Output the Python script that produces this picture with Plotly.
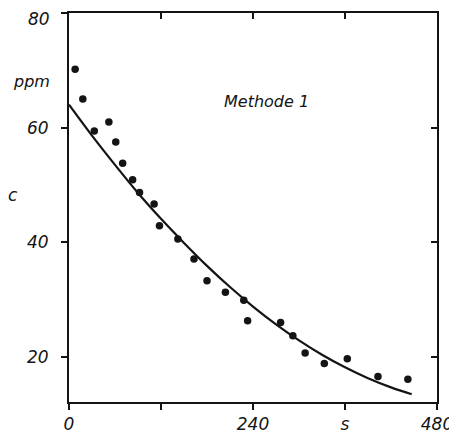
import plotly.graph_objects as go

# measured points (time in s, concentration in ppm)
t_meas = [8, 18, 33, 52, 61, 70, 83, 92, 111, 118, 142, 163, 180, 204, 228, 233,
          276, 292, 308, 333, 363, 403, 442]
c_meas = [70.2, 65.0, 59.4, 61.0, 57.5, 53.8, 50.9, 48.7, 46.7, 42.9, 40.6, 37.1,
          33.3, 31.3, 29.9, 26.3, 26.0, 23.7, 20.7, 18.85, 19.7, 16.6, 16.1]

# fitted curve
t_fit = [0, 30, 60, 90, 120, 150, 180, 210, 240, 270, 300, 330, 360, 390, 420, 447]
c_fit = [64.0, 58.6, 53.5, 48.6, 44.1, 39.9, 35.9, 32.2, 28.8, 25.7, 22.9, 20.4,
         18.2, 16.3, 14.7, 13.5]

x_tickvals = [0, 120, 240, 360, 480]
x_ticktext = ["0", "", "240", "s", "480"]
y_tickvals = [20, 40, 60, 80]
y_ticktext = ["20", "40", "60", ""]
top_label = "80"          # top y label, drawn just below its tick (edge of page)
top_ticks = [120, 240, 360]
right_ticks = [20, 40, 60]

FONT = "DejaVu Sans"
INK = "#141414"

fig = go.Figure()
fig.add_trace(go.Scatter(x=t_fit, y=c_fit, mode="lines",
                         line=dict(color=INK, width=2.2, shape="spline"),
                         hoverinfo="skip", showlegend=False))
fig.add_trace(go.Scatter(x=t_meas, y=c_meas, mode="markers",
                         marker=dict(color=INK, size=7.5),
                         showlegend=False))
fig.add_trace(go.Scatter(x=[None], y=[None], xaxis="x2", yaxis="y2",
                         showlegend=False, hoverinfo="skip"))

XR = [0, 480]
YR = [12.15, 80]
tf = dict(family=FONT, size=17, color=INK, style="italic")

# page body has an 8px offset; plot area aimed at screen px 69..437 x 13..402
OFF = 8
W, H = 449, 427
l, r, t, b = 69 - OFF, W - (437 - OFF), 13 - OFF, H - (402 - OFF)

fig.update_layout(
    width=W, height=H,
    margin=dict(l=l, r=r, t=t, b=b),
    paper_bgcolor="white", plot_bgcolor="white",
    xaxis=dict(range=XR, tickvals=x_tickvals, ticktext=x_ticktext,
               ticks="outside", ticklen=6, tickwidth=1.5, tickcolor=INK,
               showline=True, linewidth=2, linecolor=INK, mirror=False,
               showgrid=False, zeroline=False, tickfont=tf, automargin=False,
               ticklabelstandoff=0),
    yaxis=dict(range=YR, tickvals=y_tickvals, ticktext=y_ticktext,
               ticks="outside", ticklen=6, tickwidth=1.5, tickcolor=INK,
               showline=True, linewidth=2, linecolor=INK, mirror=False,
               showgrid=False, zeroline=False, tickfont=tf, automargin=False,
               ticklabelstandoff=9),
    xaxis2=dict(range=XR, overlaying="x", side="top", anchor="y",
                tickvals=top_ticks, ticks="inside", ticklen=6, tickwidth=1.5,
                tickcolor=INK, showticklabels=False, showline=True, automargin=False,
                linewidth=2, linecolor=INK, showgrid=False, zeroline=False),
    yaxis2=dict(range=YR, overlaying="y", side="right", anchor="x",
                tickvals=right_ticks, ticks="inside", ticklen=6, tickwidth=1.5,
                tickcolor=INK, showticklabels=False, showline=True, automargin=False,
                linewidth=2, linecolor=INK, showgrid=False, zeroline=False),
)

pw, ph = W - l - r, H - t - b


def px2paper(px, py):
    # screen pixel -> paper coordinates
    return (px - OFF - l) / pw, 1 - (py - OFF - t) / ph


ppm_x, ppm_y = px2paper(31, 82)
c_x, c_y = px2paper(13, 195)
l80_x, l80_y = px2paper(52, 19)
fig.add_annotation(text=top_label, x=l80_x, y=l80_y, xref="paper", yref="paper",
                   xanchor="right", yanchor="middle", showarrow=False,
                   font=tf)
fig.add_annotation(text="Methode 1", x=257, y=64.5, xref="x", yref="y",
                   showarrow=False,
                   font=dict(family=FONT, size=16, color=INK, style="italic"))
fig.add_annotation(text="ppm", x=ppm_x, y=ppm_y, xref="paper", yref="paper",
                   xanchor="center", yanchor="middle", showarrow=False,
                   font=dict(family=FONT, size=16, color=INK, style="italic"))
fig.add_annotation(text="c", x=c_x, y=c_y, xref="paper", yref="paper",
                   xanchor="center", yanchor="middle", showarrow=False,
                   font=dict(family=FONT, size=17, color=INK, style="italic"))

fig.write_html("out.html")
